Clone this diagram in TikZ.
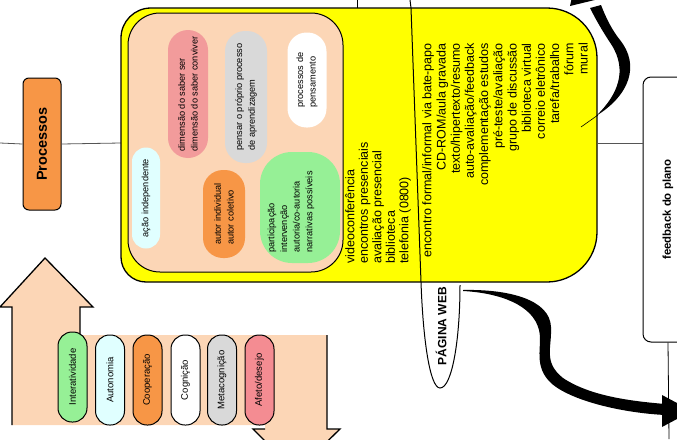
\documentclass[tikz,border=0pt]{standalone}
\usepackage{fontspec}
\setmainfont{Liberation Sans}
\usetikzlibrary{calc}
\definecolor{ylw}{RGB}{255,255,0}
\definecolor{peach}{RGB}{252,214,182}
\definecolor{orng}{RGB}{247,150,70}
\definecolor{pinkb}{RGB}{242,155,155}
\definecolor{pinkp}{RGB}{244,140,146}
\definecolor{grn}{RGB}{150,240,150}
\definecolor{cyn}{RGB}{224,255,255}
\definecolor{gry}{RGB}{217,217,217}
\definecolor{lne}{RGB}{85,85,85}
\begin{document}
\begin{tikzpicture}[x=1pt,y=-1pt,
  pill/.style={draw, line width=1pt, rotate=90, rounded corners=14pt,
    minimum width=90pt, minimum height=29pt, inner sep=0pt,
    font=\fontsize{9.5}{11}\selectfont},
  bub/.style={rotate=90, inner sep=0pt, align=left,
    font=\fontsize{9.2}{12.7}\selectfont},
  ytxt/.style={rotate=90, inner sep=0pt, font=\fontsize{12.5}{13.5}\selectfont},
  conn/.style={lne, line width=0.8pt},
]
\useasboundingbox (0,0) rectangle (677,439);
\begin{scope}
\clip (0,0) rectangle (677,439);
% U-turn arrow
\fill[peach] (12,425) -- (12,307) -- (0,307) -- (45,258) -- (93,307) -- (80,307) -- (80,335) -- (327,335) -- (327,429) -- (340,429) -- (296,472) -- (253,429) -- (265,429) -- (265,425) -- cycle;
\draw[line width=1.3pt] (12,425) -- (12,307) -- (0,307) -- (45,258) -- (93,307) -- (80,307) -- (80,335);
\draw[line width=1.3pt] (327,335) -- (327,429) -- (340,429) -- (296,472) -- (253,429) -- (265,429);
% pills
\node[pill, fill=grn] (p1) at (72.5,377) {Interatividade};
\node[pill, fill=cyn] (p2) at (110,380) {Autonomia};
\node[pill, fill=orng] (p3) at (147.5,380) {Cooperação};
\node[pill, fill=white] (p4) at (185.5,380) {Cognição};
\node[pill, fill=gry] (p5) at (222,380) {Metacognição};
\node[pill, fill=pinkp] (p6) at (259.5,380) {Afeto/desejo};
% Processos
\coordinate (yl) at (121,143);
\coordinate (yr) at (597,143);
\node[draw, line width=1pt, fill=orng, rounded corners=6pt, rotate=90, minimum width=132pt, minimum height=38pt, font=\bfseries\fontsize{14.5}{16}\selectfont] (proc) at (42,144) {Processos};
\draw[conn] (0,143) -- (proc.north);
\draw[conn] (proc.south) -- (yl);
% top lines
\draw[line width=1pt] (357,0) -- (357,8);
% yellow box
\draw[line width=1.3pt, fill=ylw] (121,143) [rounded corners=30pt] -- (121,8) -- (300,8) [rounded corners=50pt] -- (597,8) -- (597,282) -- (300,282) [rounded corners=25pt] -- (121,282) -- cycle;
\draw[line width=1pt, fill=peach, rounded corners=32pt] (128,13) rectangle (343,272);
% bubbles
\node[bub, fill=cyn, rounded corners=14pt, minimum width=101pt, minimum height=28pt] (b1) at (146,198) {ação independente};
\node[bub, fill=pinkb, rounded corners=20pt, minimum width=128pt, minimum height=40pt] (b2) at (188,94) {dimensão do saber ser\\dimensão do saber conviver};
\node[bub, fill=orng, rounded corners=20pt, minimum width=88pt, minimum height=42pt] (b3) at (224,214) {autor individual\\autor coletivo};
\node[bub, fill=gry, rounded corners=20pt, minimum width=132pt, minimum height=42pt] (b4) at (246,97) {pensar o próprio processo\\de aprendizagem};
\node[bub, fill=white, rounded corners=19pt, minimum width=95pt, minimum height=39pt] (b5) at (307,80) {processos de\\pensamento};
\node[bub, fill=grn, rounded corners=32pt, minimum width=111pt, minimum height=80pt] (b6) at (300,207.5) {};
\node[bub] (b6t) at (291,212) {participação\\intervenção\\autoria/co-autoria\\narrativas possíveis};
% yellow texts
\node[ytxt, anchor=west, align=left] (vl) at (378,264) {videoconferência\\encontros presenciais\\avaliação presencial\\biblioteca\\telefonia (0800)};
\node[ytxt, anchor=east, align=right, font=\fontsize{12.5}{14.2}\selectfont] (vr) at (505,43) {encontro formal/informal via bate-papo\\CD-ROM/aula gravada\\texto/hipertexto/resumo\\auto-avaliação/feedback\\complementação estudos\\pré-teste/avaliação\\grupo de discussão\\biblioteca virtual\\correio eletrônico\\tarefa/trabalho\\fórum\\mural};
% divider and pagina web
\draw[line width=1pt] (410,0) -- (411,8) -- (421,282) .. controls (423,340) and (430,388) .. (440,388) .. controls (452,388) and (460,340) .. (460,285);
\node[rotate=90, font=\bfseries\fontsize{12}{12}\selectfont] (pw) at (441,326) {PÁGINA WEB};
% feedback box
\node[draw, line width=1pt, fill=white, rounded corners=8pt, rotate=90, minimum width=265pt, minimum height=50pt, font=\bfseries\fontsize{11.4}{12}\selectfont] (fb) at (668,209.5) {feedback do plano};
\draw[conn] (yr) -- (yr -| fb.north);
\draw[line width=0.8pt] (fb.west) -- (669,439);
% top-right arrow
\draw[line width=0.6pt] (581,127) -- (598,115);
\fill (596,116) .. controls (630,95) and (640,65) .. (620,40) .. controls (612,30) and (606,18) .. (601,5) -- (590,8) .. controls (596,20) and (603,32) .. (611,44) .. controls (628,70) and (618,95) .. (596,116) -- cycle;
\fill (570,6) -- (603,-2) -- (578,-30) -- cycle;
% S arrow
\fill (463,290) .. controls (510,289) and (550,300) .. (551,327) .. controls (552,348) and (543,362) .. (563,378) .. controls (590,396) and (630,401) .. (665,404) -- (665,415) .. controls (625,413) and (574,402) .. (552,384) .. controls (532,366) and (543,346) .. (539,330) .. controls (533,305) and (500,293) .. (463,291) -- cycle;
\fill (662,395) -- (692,411) -- (662,427) -- cycle;
\end{scope}
\end{tikzpicture}
\end{document}
